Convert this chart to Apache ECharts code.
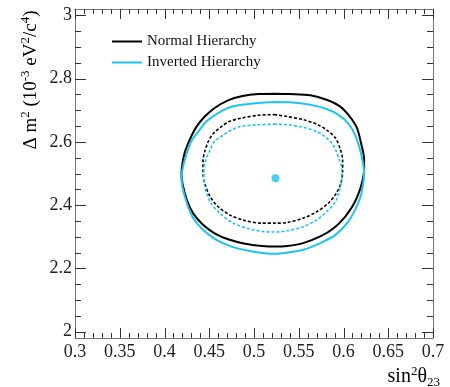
<!DOCTYPE html>
<html>
<head>
<meta charset="utf-8">
<script src="https://cdn.jsdelivr.net/npm/echarts@6/dist/echarts.min.js"></script>
<style>
  html, body { margin: 0; padding: 0; background: #fff; }
  #chart { width: 450px; height: 387px; }
</style>
</head>
<body>
<div id="chart"></div>
<script>
// 坐标轴刻度
const xMajor = [0.3, 0.35, 0.4, 0.45, 0.5, 0.55, 0.6, 0.65, 0.7];
const xTickLabels = ['0.3', '0.35', '0.4', '0.45', '0.5', '0.55', '0.6', '0.65', '0.7'];
const xMinor = [
  0.31, 0.32, 0.33, 0.34, 0.36, 0.37, 0.38, 0.39, 0.41, 0.42, 0.43, 0.44,
  0.46, 0.47, 0.48, 0.49, 0.51, 0.52, 0.53, 0.54, 0.56, 0.57, 0.58, 0.59,
  0.61, 0.62, 0.63, 0.64, 0.66, 0.67, 0.68, 0.69
];
const yMajor = [2, 2.2, 2.4, 2.6, 2.8, 3];
const yTickLabels = ['2', '2.2', '2.4', '2.6', '2.8', '3'];
const yMinor = [2.05, 2.1, 2.15, 2.25, 2.3, 2.35, 2.45, 2.5, 2.55, 2.65, 2.7, 2.75, 2.85, 2.9, 2.95];
const xRange = [0.3, 0.7];
const yRange = [1.98, 3.02];

// Normal Hierarchy, outer contour (solid)
const nhOuter = [
  [0.524, 2.752], [0.505, 2.751], [0.486, 2.744], [0.471, 2.731], [0.456, 2.707], [0.445, 2.680],
  [0.436, 2.649], [0.429, 2.612], [0.423, 2.570], [0.420, 2.530], [0.419, 2.500], [0.420, 2.469],
  [0.425, 2.416], [0.432, 2.374], [0.443, 2.338], [0.456, 2.311], [0.471, 2.292], [0.490, 2.278],
  [0.509, 2.271], [0.524, 2.269], [0.537, 2.271], [0.555, 2.280], [0.574, 2.301], [0.589, 2.327],
  [0.602, 2.364], [0.611, 2.401], [0.617, 2.438], [0.621, 2.475], [0.623, 2.510], [0.623, 2.545],
  [0.620, 2.591], [0.615, 2.644], [0.607, 2.680], [0.596, 2.712], [0.581, 2.733], [0.563, 2.747],
  [0.540, 2.751], [0.524, 2.752]
];
// Normal Hierarchy, inner contour (dashed)
const nhInner = [
  [0.524, 2.686], [0.505, 2.684], [0.486, 2.675], [0.473, 2.665], [0.464, 2.649], [0.455, 2.628],
  [0.449, 2.602], [0.445, 2.570], [0.443, 2.538], [0.443, 2.505], [0.445, 2.469], [0.451, 2.427],
  [0.460, 2.395], [0.473, 2.369], [0.490, 2.351], [0.509, 2.343], [0.524, 2.343], [0.537, 2.345],
  [0.555, 2.359], [0.570, 2.379], [0.583, 2.406], [0.592, 2.438], [0.597, 2.469], [0.599, 2.505],
  [0.599, 2.544], [0.596, 2.580], [0.591, 2.612], [0.581, 2.638], [0.570, 2.656], [0.555, 2.670],
  [0.537, 2.680], [0.524, 2.686]
];
// Inverted Hierarchy, outer contour (solid)
const ihOuter = [
  [0.524, 2.726], [0.505, 2.723], [0.486, 2.717], [0.471, 2.707], [0.458, 2.688], [0.447, 2.665],
  [0.438, 2.633], [0.430, 2.602], [0.425, 2.565], [0.421, 2.525], [0.419, 2.490], [0.420, 2.458],
  [0.425, 2.406], [0.432, 2.359], [0.443, 2.322], [0.458, 2.290], [0.475, 2.269], [0.494, 2.256],
  [0.512, 2.248], [0.524, 2.246], [0.537, 2.250], [0.555, 2.259], [0.574, 2.280], [0.591, 2.306],
  [0.604, 2.343], [0.613, 2.385], [0.619, 2.427], [0.622, 2.469], [0.623, 2.505], [0.621, 2.545],
  [0.618, 2.580], [0.613, 2.622], [0.605, 2.659], [0.594, 2.686], [0.581, 2.704], [0.563, 2.717],
  [0.540, 2.725], [0.524, 2.726]
];
// Inverted Hierarchy, inner contour (dashed)
const ihInner = [
  [0.524, 2.656], [0.505, 2.654], [0.486, 2.649], [0.475, 2.638], [0.466, 2.622], [0.456, 2.602],
  [0.451, 2.575], [0.447, 2.549], [0.444, 2.515], [0.444, 2.490], [0.445, 2.458], [0.451, 2.411],
  [0.462, 2.374], [0.477, 2.343], [0.496, 2.324], [0.512, 2.316], [0.524, 2.315], [0.537, 2.319],
  [0.555, 2.332], [0.570, 2.353], [0.581, 2.379], [0.591, 2.411], [0.596, 2.453], [0.598, 2.485],
  [0.598, 2.515], [0.595, 2.545], [0.592, 2.570], [0.587, 2.596], [0.579, 2.617], [0.570, 2.633],
  [0.555, 2.646], [0.537, 2.654], [0.524, 2.656]
];
// 最佳拟合点
const bestFit = [[0.524, 2.485]];

const black = '#000';
const cyan = '#1ec3f3';
const tickColor = '#333';
const serif = '"Liberation Serif", "DejaVu Serif", serif';

const chart = echarts.init(document.getElementById('chart'));

function xAxisCfg(pos, showLabel) {
  return {
    type: 'value',
    position: pos,
    min: xRange[0],
    max: xRange[1],
    axisLine: { show: true, lineStyle: { color: '#777', width: 1 } },
    axisTick: { show: false },
    splitLine: { show: false },
    axisLabel: {
      show: showLabel,
      customValues: xMajor,
      margin: 5,
      color: '#222',
      fontFamily: serif,
      fontSize: 18,
      formatter: v => {
        const i = xMajor.findIndex(t => Math.abs(t - v) < 1e-6);
        return i >= 0 ? xTickLabels[i] : '';
      }
    }
  };
}

function yAxisCfg(pos, showLabel) {
  return {
    type: 'value',
    position: pos,
    min: yRange[0],
    max: yRange[1],
    axisLine: { show: true, lineStyle: { color: '#777', width: 1 } },
    axisTick: { show: false },
    splitLine: { show: false },
    axisLabel: {
      show: showLabel,
      customValues: yMajor,
      margin: 3,
      color: '#222',
      fontFamily: serif,
      fontSize: 18,
      formatter: v => {
        const i = yMajor.findIndex(t => Math.abs(t - v) < 1e-6);
        return i >= 0 ? yTickLabels[i] : '';
      }
    }
  };
}

// 四边朝内的刻度，位置由坐标轴换算
function tickLine(x1, y1, x2, y2) {
  return {
    type: 'line',
    shape: { x1, y1, x2, y2 },
    style: { stroke: tickColor, lineWidth: 1 }
  };
}
function xTickSeries(values, len) {
  return {
    type: 'custom',
    silent: true,
    data: values.map(v => [v, yRange[0]]),
    renderItem: (params, api) => {
      const v = api.value(0);
      const b = api.coord([v, yRange[0]]);
      const t = api.coord([v, yRange[1]]);
      const x = Math.round(b[0]) + 0.5;
      return {
        type: 'group',
        children: [tickLine(x, b[1], x, b[1] - len), tickLine(x, t[1], x, t[1] + len)]
      };
    }
  };
}
function yTickSeries(values, len) {
  return {
    type: 'custom',
    silent: true,
    data: values.map(v => [xRange[0], v]),
    renderItem: (params, api) => {
      const v = api.value(1);
      const l = api.coord([xRange[0], v]);
      const r = api.coord([xRange[1], v]);
      const y = Math.round(l[1]) + 0.5;
      return {
        type: 'group',
        children: [tickLine(l[0], y, l[0] + len, y), tickLine(r[0], y, r[0] - len, y)]
      };
    }
  };
}

chart.setOption({
  animation: false,
  grid: { left: 75, right: 17, top: 9, bottom: 49 },
  legend: {
    data: ['Normal Hierarchy', 'Inverted Hierarchy'],
    orient: 'vertical',
    left: 112,
    top: 34,
    padding: 0,
    icon: 'rect',
    itemWidth: 30,
    itemHeight: 2,
    itemGap: 6,
    textStyle: { fontFamily: serif, fontSize: 15, color: '#111' }
  },
  xAxis: [xAxisCfg('bottom', true), xAxisCfg('top', false)],
  yAxis: [yAxisCfg('left', true), yAxisCfg('right', false)],
  series: [
    xTickSeries(xMajor, 10),
    xTickSeries(xMinor, 5),
    yTickSeries(yMajor, 11),
    yTickSeries(yMinor, 6),
    {
      name: 'Normal Hierarchy', type: 'line', data: nhOuter, smooth: 0.3, showSymbol: false,
      lineStyle: { color: black, width: 2 }, itemStyle: { color: black }
    },
    {
      name: 'Inverted Hierarchy', type: 'line', data: ihOuter, smooth: 0.3, showSymbol: false,
      lineStyle: { color: cyan, width: 2 }, itemStyle: { color: cyan }
    },
    {
      name: 'Normal Hierarchy', type: 'line', data: nhInner, smooth: 0.3, showSymbol: false,
      lineStyle: { color: black, width: 1.6, type: [3, 2] }, itemStyle: { color: black }
    },
    {
      name: 'Inverted Hierarchy', type: 'line', data: ihInner, smooth: 0.3, showSymbol: false,
      lineStyle: { color: cyan, width: 1.6, type: [3, 2] }, itemStyle: { color: cyan }
    },
    {
      name: 'best fit', type: 'scatter', data: bestFit, symbolSize: 8,
      itemStyle: { color: cyan }
    }
  ],
  graphic: [
    {
      // y 轴标题
      type: 'text',
      x: 31, y: 80,
      rotation: Math.PI / 2,
      style: {
        text: '{n|Δ m}{s|2}{n| (10}{s|-3}{n| eV}{s|2}{n|/c}{s|4}{n|)}',
        align: 'center',
        verticalAlign: 'middle',
        rich: {
          n: { fontFamily: serif, fontSize: 19, color: '#222', lineHeight: 23 },
          s: { fontFamily: serif, fontSize: 13, color: '#222', verticalAlign: 'top' }
        }
      }
    },
    {
      // x 轴标题
      type: 'text',
      x: 440, y: 377,
      style: {
        text: '{n|sin}{s|2}{n|θ}{b|23}',
        align: 'right',
        verticalAlign: 'middle',
        rich: {
          n: { fontFamily: serif, fontSize: 20, color: '#222', lineHeight: 24 },
          s: { fontFamily: serif, fontSize: 13, color: '#222', verticalAlign: 'top' },
          b: { fontFamily: serif, fontSize: 13, color: '#222', verticalAlign: 'bottom' }
        }
      }
    }
  ]
});
</script>
</body>
</html>
